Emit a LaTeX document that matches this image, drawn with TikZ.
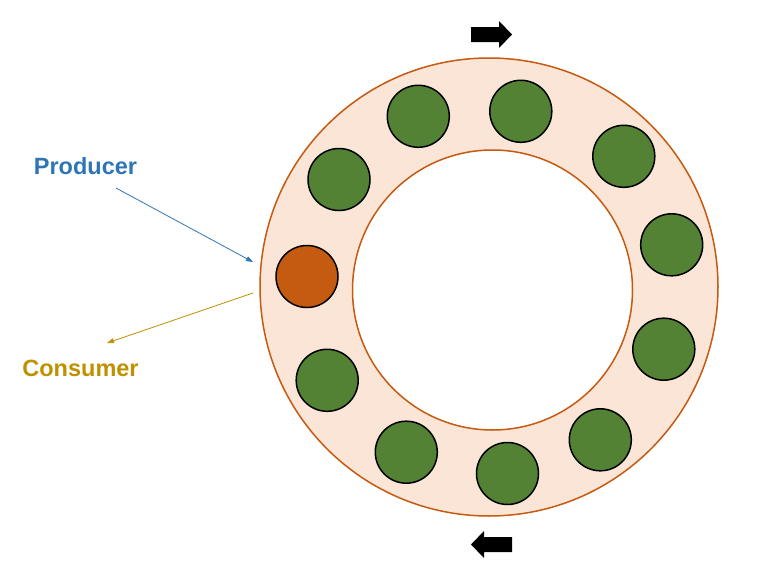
\documentclass[tikz,border=0pt]{standalone}
\usepackage{fontspec}
\setmainfont{Liberation Sans}
\usetikzlibrary{arrows.meta}
\definecolor{ringfill}{HTML}{FBE5D6}
\definecolor{ringline}{HTML}{C55A11}
\definecolor{ballgreen}{HTML}{548235}
\definecolor{prodblue}{HTML}{2E75B6}
\definecolor{consgold}{HTML}{BF9000}
\tikzset{
  ball/.style={circle, draw=black, line width=1.5pt, minimum size=62pt, inner sep=0pt},
  label text/.style={font=\bfseries\fontsize{23.5}{26}\selectfont}
}

\begin{document}
\begin{tikzpicture}[x=1pt, y=-1pt]
                \useasboundingbox (0,0) rectangle (761,581);
                \draw[ringline, line width=1.5pt, fill=ringfill](489, 287) circle (229);
                \draw[ringline, line width=1.5pt, fill=white](492.5, 290) circle (140);
                \node[ball, fill=ringline] (b0) at (307, 276.5) {};
                \foreach \n/\x/\y in {1/339/179.5, 2/418.3/116.3, 3/520.8/111.3, 4/623.8/156.3, 5/671.7/244.8,
                    6/663.8/349.2, 7/600.3/439.8, 8/507.5/473.5, 9/406.3/452.2, 10/327.2/380.3}
                    \node[ball, fill=ballgreen] (b\n) at (\x, \y) {};
                % block arrows
                \fill[black](471,27) -- (499,27) -- (499,21) -- (512,34.5) -- (499,48) -- (499,42) -- (471,42) -- cycle;
                \fill[black](512,537) -- (484,537) -- (484,531) -- (471,544.5) -- (484,558) -- (484,552) -- (512,552) -- cycle;
                % labels
                \node[label text, text=prodblue] (producer) at (85.5, 166) {Producer};
                \node[label text, text=consgold] (consumer) at (80.5, 368) {Consumer};
                \coordinate (prodtail) at (116, 188);
                \coordinate (prodtip) at (253, 262);
                \coordinate (constail) at (253, 293);
                \coordinate (constip) at (107, 343);
                \draw [-{Triangle[length=7pt, width=5pt]}, prodblue, line width=0.8pt](prodtail) to(prodtip);
                \draw [-{Triangle[length=7pt, width=5pt]}, consgold, line width=0.8pt](constail) to(constip);
            \end{tikzpicture}
\end{document}
